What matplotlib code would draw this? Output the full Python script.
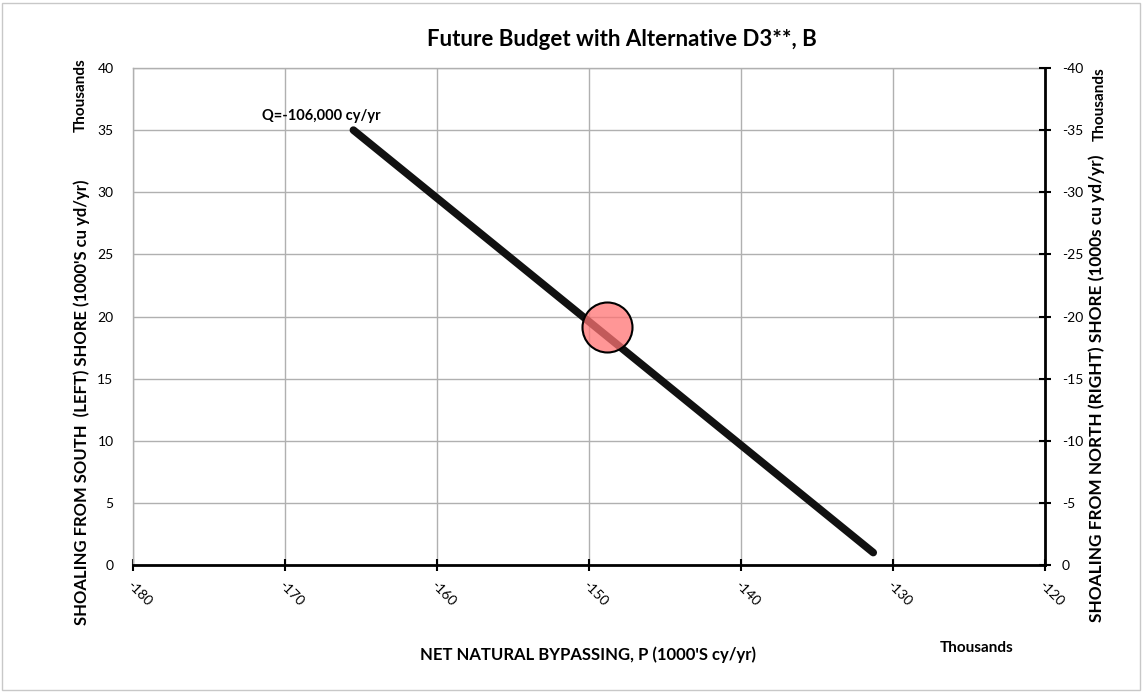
import matplotlib
matplotlib.use("Agg")
import matplotlib.pyplot as plt
from matplotlib.patches import Rectangle
from matplotlib.ticker import FuncFormatter

# Data (cy/yr)
line_p = [-165500, -131300]
line_s = [35000, 1000]
point_p = [-148800]
point_s = [19150]
annotation = "Q=-106,000 cy/yr"
x_ticks = list(range(-180000, -119999, 10000))
y_ticks = list(range(0, 40001, 5000))
y2_ticks = [-v for v in y_ticks]

plt.rcParams['font.family'] = ['Lato', 'DejaVu Sans']

W, H = 1148, 692
fig = plt.figure(figsize=(W / 100, H / 100), dpi=100)
fig.patches.append(Rectangle((2 / W, 2 / H), (1140 - 2) / W, (689 - 2) / H,
                             transform=fig.transFigure, fill=False,
                             edgecolor='#c8c8c8', linewidth=1))

left, right, top, bottom = 133, 1045, 68, 565
ax = fig.add_axes([left / W, 1 - bottom / H, (right - left) / W, (bottom - top) / H])

ax.plot(line_p, line_s, color='#111111', linewidth=5.5, solid_capstyle='round', zorder=3)
ax.plot(point_p, point_s, 'o', markersize=36, markerfacecolor=(1, 0.45, 0.45, 0.75),
        markeredgecolor='black', markeredgewidth=1.5, zorder=4)

ax.set_xlim(-180000, -120000)
ax.set_ylim(0, 40000)
ax.set_xticks(x_ticks)
ax.set_yticks(y_ticks)
fmt = FuncFormatter(lambda v, pos: f"{v / 1000:g}")
ax.xaxis.set_major_formatter(fmt)
ax.yaxis.set_major_formatter(fmt)
ax.grid(True, color='#b0b0b0', linewidth=1)
ax.set_axisbelow(True)

for s in ['top', 'left']:
    ax.spines[s].set_color('#b0b0b0')
    ax.spines[s].set_linewidth(1)
ax.spines['bottom'].set_color('black')
ax.spines['bottom'].set_linewidth(2)
ax.spines['right'].set_visible(False)

ax.tick_params(axis='x', direction='inout', length=8, width=1.5, labelsize=10, pad=6)
ax.tick_params(axis='y', length=0, labelsize=10, pad=14)
for lbl in ax.get_xticklabels():
    lbl.set_rotation(-45)
    lbl.set_ha('left')
    lbl.set_va('top')
    lbl.set_rotation_mode('anchor')

ax2 = ax.twinx()
ax2.set_ylim(0, -40000)
ax2.set_yticks(y2_ticks)
ax2.yaxis.set_major_formatter(fmt)
for s in ['top', 'left', 'bottom']:
    ax2.spines[s].set_visible(False)
ax2.spines['right'].set_color('black')
ax2.spines['right'].set_linewidth(2)
ax2.tick_params(axis='y', direction='inout', length=8, width=1.5, labelsize=10, pad=8)

ax.text(-171500, 36100, annotation, fontsize=10.5, fontweight='bold', ha='left', va='center')

fig.text(622 / W, 1 - 40 / H, "Future Budget with Alternative D3**, B",
         fontsize=16, fontweight='bold', ha='center', va='center')
fig.text(588 / W, 1 - 655 / H, "NET NATURAL BYPASSING, P (1000'S cy/yr)",
         fontsize=12, fontweight='bold', ha='center', va='center')
fig.text(977 / W, 1 - 648 / H, "Thousands", fontsize=11, fontweight='bold', ha='center', va='center')
fig.text(82 / W, 1 - 402 / H, "SHOALING FROM SOUTH  (LEFT) SHORE (1000'S cu yd/yr)",
         fontsize=12, fontweight='bold', ha='center', va='center', rotation=90)
fig.text(81 / W, 1 - 95 / H, "Thousands", fontsize=11, fontweight='bold', ha='center', va='center', rotation=90)
fig.text(1097 / W, 1 - 388 / H, "SHOALING FROM NORTH (RIGHT) SHORE (1000s cu yd/yr)",
         fontsize=12.4, fontweight='bold', ha='center', va='center', rotation=90)
fig.text(1100 / W, 1 - 104 / H, "Thousands", fontsize=11, fontweight='bold', ha='center', va='center', rotation=90)

fig.savefig("out.png", dpi=100)
